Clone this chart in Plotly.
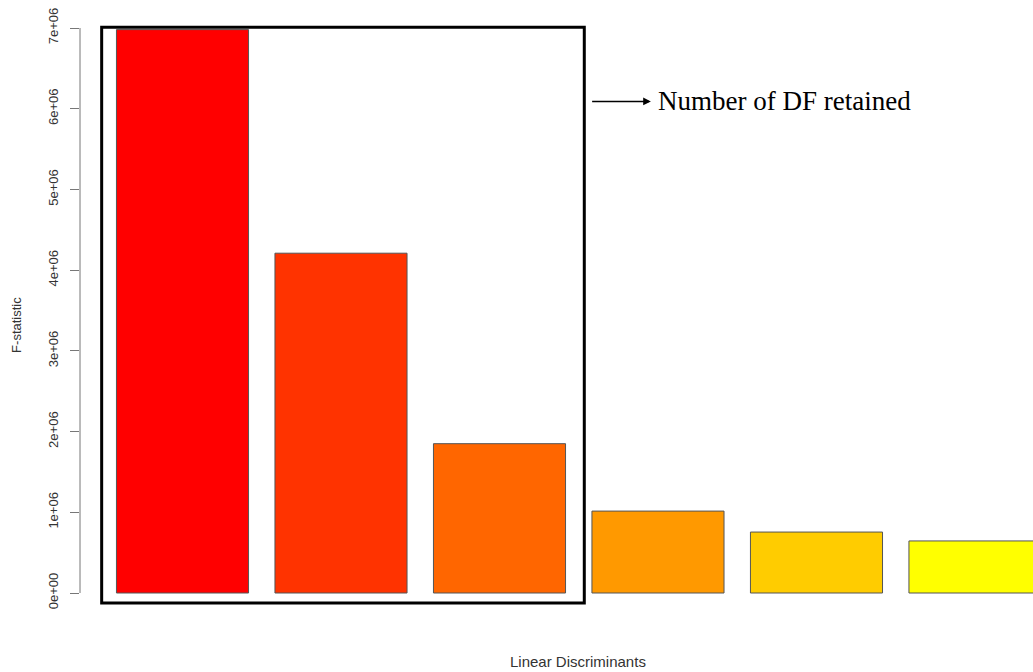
import plotly.graph_objects as go

# F-statistic of each linear discriminant
discriminants = ["LD1", "LD2", "LD3", "LD4", "LD5", "LD6"]
f_values = [6.98e6, 4.21e6, 1.85e6, 1.015e6, 0.755e6, 0.645e6]
bar_colors = ["#FF0000", "#FF3300", "#FF6600", "#FF9900", "#FFCC00", "#FFFF00"]

tick_values = [0, 1e6, 2e6, 3e6, 4e6, 5e6, 6e6, 7e6]
tick_labels = ["0e+00", "1e+06", "2e+06", "3e+06", "4e+06", "5e+06", "6e+06", "7e+06"]

retained = 3  # discriminant functions kept

positions = list(range(len(discriminants)))

fig = go.Figure()
fig.add_trace(go.Bar(
    x=positions,
    y=f_values,
    width=1 / 1.2,
    marker=dict(color=bar_colors, line=dict(color="#555555", width=1)),
    hovertext=discriminants,
    showlegend=False,
))

axis_grey = "#777777"
text_grey = "#333333"

# R-style y axis line spanning only the tick range
fig.add_shape(type="line", xref="paper", yref="y",
              x0=0, x1=0, y0=tick_values[0], y1=tick_values[-1],
              line=dict(color=axis_grey, width=1))

# Box around the retained discriminants
fig.add_shape(type="rect", xref="x", yref="y",
              x0=-0.51, x1=retained - 1 + 0.535, y0=-0.125e6, y1=7.01e6,
              line=dict(color="black", width=3), fillcolor="rgba(0,0,0,0)")

# Arrow pointing to the label
fig.add_annotation(x=2.955, y=6.09e6, ax=2.575, ay=6.09e6,
                   xref="x", yref="y", axref="x", ayref="y",
                   text="", showarrow=True, arrowhead=2, arrowsize=1.1,
                   arrowwidth=1.4, arrowcolor="black")
fig.add_annotation(x=2.99, y=6.1e6, xref="x", yref="y",
                   text="Number of DF retained", showarrow=False,
                   xanchor="left", yanchor="middle",
                   font=dict(family="Liberation Serif", size=27, color="black"))

# Axis titles
fig.add_annotation(x=0, y=0.476, xref="paper", yref="paper", xshift=-63,
                   text="F-statistic", showarrow=False, textangle=-90,
                   xanchor="center", yanchor="middle",
                   font=dict(family="Liberation Sans", size=13, color=text_grey))
fig.add_annotation(x=0.5226, y=-0.0677, xref="paper", yref="paper",
                   text="Linear Discriminants", showarrow=False,
                   xanchor="center", yanchor="middle",
                   font=dict(family="Liberation Sans", size=15, color=text_grey))

fig.update_layout(
    width=1033, height=672,
    margin=dict(l=80, r=0, t=0, b=52),
    paper_bgcolor="white", plot_bgcolor="white",
    xaxis=dict(range=[-0.6467, 5.366], showticklabels=False, showgrid=False,
               zeroline=False, showline=False, ticks=""),
    yaxis=dict(range=[-0.3345e6, 7.347e6], tickvals=tick_values, ticktext=tick_labels,
               tickangle=-90, ticks="outside", ticklen=9, tickcolor=axis_grey,
               tickwidth=1, ticklabelstandoff=7, showgrid=False, zeroline=False,
               showline=False,
               tickfont=dict(family="Liberation Sans", size=13, color=text_grey)),
)

fig.write_html("out.html")
